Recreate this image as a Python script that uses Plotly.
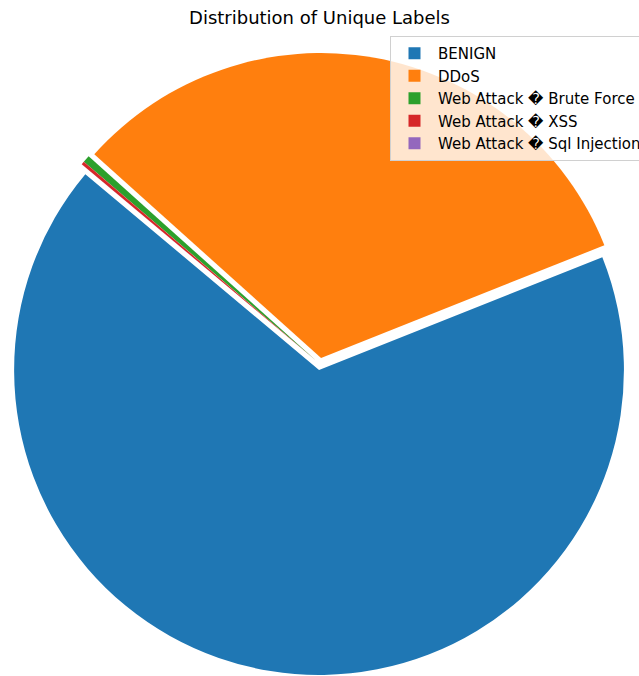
import plotly.graph_objects as go

labels = ["BENIGN", "DDoS", "Web Attack \ufffd Brute Force", "Web Attack \ufffd XSS", "Web Attack \ufffd Sql Injection"]
counts = [265904, 128027, 1507, 652, 21]
colors = ["#1f77b4", "#ff7f0e", "#2ca02c", "#d62728", "#9467bd"]

W, H = 639, 676
cx, cy, R = 320, 364, 311

fig = go.Figure(go.Pie(
    labels=labels,
    values=counts,
    sort=False,
    direction="counterclockwise",
    rotation=68.3,
    pull=[0.02] * len(labels),
    marker=dict(colors=colors, line=dict(width=0)),
    textinfo="none",
    domain=dict(x=[(cx - R) / W, (cx + R) / W], y=[(H - cy - R) / H, (H - cy + R) / H]),
))

fig.update_layout(
    width=W, height=H,
    margin=dict(l=0, r=0, t=0, b=0, autoexpand=False),
    paper_bgcolor="white",
    font=dict(family="DejaVu Sans", color="#000000"),
    title=dict(text="Distribution of Unique Labels", x=0.5, xanchor="center",
               y=1 - 18 / H, yanchor="middle", font=dict(size=18, family="DejaVu Sans")),
    legend=dict(x=390 / W, y=1 - 36 / H, xanchor="left", yanchor="top",
                itemwidth=37,
                bgcolor="rgba(255,255,255,0.8)", bordercolor="#d0d0d0", borderwidth=1,
                font=dict(size=15, family="DejaVu Sans")),
    showlegend=True,
)

fig.write_html("out.html", config={"displayModeBar": False},
               post_script="document.body.style.margin='0';")
